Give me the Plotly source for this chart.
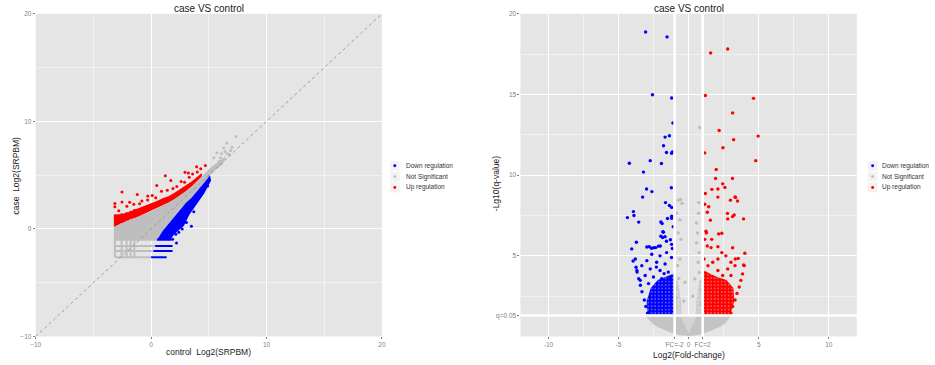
import plotly.graph_objects as go

# ---------------- data: left panel (case vs control, Log2 SRPBM) ----------------
ns_cloud_x = [-3.14, -2.5, -2.0, -1.5, -1.0, -0.5, 0.0, 0.5, 1.0, 1.5, 2.0, 2.5, 3.0, 3.5, 4.0, 4.5, 5.0, 5.5, 6.0, 6.5,
              6.2, 5.6, 5.1, 4.6, 4.0, 3.5, 3.0, 2.5, 2.0, 1.5, 1.0, 0.55, -3.14]
ns_cloud_y = [0.25, 0.55, 0.8, 1.0, 1.2, 1.4, 1.65, 1.9, 2.2, 2.45, 2.75, 3.1, 3.5, 3.95, 4.45, 5.0, 5.55, 6.0, 6.4, 6.8,
              6.0, 5.5, 5.0, 4.3, 3.5, 2.9, 2.4, 1.85, 1.1, 0.45, -0.2, -0.95, -0.95]
up_band_x = [-3.14, -2.5, -2.0, -1.5, -1.0, -0.5, 0.0, 0.5, 1.0, 1.5, 2.0, 2.5, 3.0, 3.5, 4.0, 4.4]
up_band_top = [1.35, 1.4, 1.55, 1.75, 2.0, 2.2, 2.4, 2.6, 2.85, 3.05, 3.35, 3.7, 4.0, 4.4, 4.85, 5.2]
up_band_bottom = [0.25, 0.55, 0.8, 1.0, 1.2, 1.4, 1.65, 1.9, 2.2, 2.45, 2.75, 3.1, 3.5, 3.95, 4.45, 4.9]
down_band_x = [0.55, 1.0, 1.5, 2.0, 2.5, 3.0, 3.5, 4.0, 4.6, 5.1, 5.2, 4.6, 3.9, 3.3, 2.85, 2.0, 1.7, 0.55]
down_band_y = [-0.95, -0.2, 0.45, 1.1, 1.85, 2.4, 2.9, 3.5, 4.3, 5.0, 4.5, 3.3, 2.25, 1.3, 0.3, -0.5, -0.95, -0.95]
low_rows_y = [-1.0, -1.58, -2.06, -2.64]
ns_row_start = -3.14
ns_row_end = [0.5, 0.35, 0.2, 0.0]
down_row_end = [1.75, 1.86, 1.86, 1.35]
low_cols_x = [-3.14, -2.55, -2.12, -1.78, -1.45]
ns_col_top = [0.25, 0.55, 0.78, 0.95, 1.05]
up_col_top = [1.35, 1.45, 1.55, 1.7, 1.85]
up_pts_x = [-3.14, -3.14, -2.52, 0.49, 1.23, 2.94, 3.23, 3.94, 2.23, -1.2, -1.86, -0.29, 1.71, -2.52, -2.1, -1.5,
            -0.8, 0.1, 0.9, 1.4, 2.6, 3.6, 4.3, 4.7, -2.8, -1.0, -0.3, 0.4, 1.9, 2.9, 3.3, 4.0]
up_pts_y = [2.37, 2.07, 3.43, 4.04, 4.95, 5.26, 5.2, 5.78, 3.95, 3.2, 2.49, 3.07, 4.5, 2.5, 2.1, 2.3,
            2.6, 3.1, 3.5, 3.6, 4.4, 5.1, 5.6, 5.9, 1.7, 2.35, 2.7, 2.9, 3.75, 4.35, 4.8, 5.3]
down_pts_x = [3.49, 3.06, 3.0, 3.43, 1.86, 2.14, 4.29, 4.6, 2.4, 2.7, 3.7, 2.2, 4.9]
down_pts_y = [0.24, 0.6, 1.31, 1.9, -0.97, -0.5, 3.1, 3.9, -0.3, 0.0, 1.6, -1.3, 4.0]
ns_pts_x = [7.37, 6.57, 6.29, 5.71, 6.0, 5.43, 6.09, 6.6, 6.9, 7.0, 5.9, 6.8, 6.4]
ns_pts_y = [8.6, 7.99, 7.53, 7.08, 6.62, 6.62, 6.99, 7.0, 7.3, 7.6, 6.3, 6.9, 7.2]
ref_line = [-10, 20]

# ---------------- data: right panel (volcano) ----------------
down_v_x = [-3.07, -1.54, -2.58, -1.21, -1.12, -1.68, -1.37, -1.79, -1.58, -1.21, -1.16, -4.23, -2.74, -1.94, -3.22,
            -1.23, -3.0, -2.62, -3.28, -1.65, -1.37, -1.21, -3.94, -3.9, -4.37, -3.56, -1.98, -1.89, -1.51, -1.21,
            -1.21, -1.84, -1.98, -1.86, -1.58, -3.73, -4.06, -2.98, -2.65, -2.35, -2.02, -1.21, -1.16, -3.96,
            -1.8, -1.68, -2.81, -2.5, -2.15, -2.63, -2.04, -1.57, -1.22, -3.8, -2.98, -2.28, -1.68, -3.34, -2.74,
            -2.04, -1.45, -3.69, -3.1, -2.51, -1.92, -1.33, -3.45, -2.86,
            -2.93, -3.05, -3.16, -3.33, -3.44, -3.56, -3.68, -3.75, -1.1, -1.3, -2.3, -1.75]
down_v_y = [18.87, 18.57, 14.98, 14.78, 13.23, 12.36, 12.44, 11.82, 11.4, 11.36, 11.44, 10.74, 10.9, 10.72, 10.19,
            9.22, 9.14, 8.98, 8.64, 8.3, 8.12, 8.0, 7.74, 7.5, 7.37, 7.09, 7.1, 7.0, 7.31, 7.45,
            7.33, 6.5, 6.22, 6.14, 5.9, 5.84, 5.43, 5.55, 5.47, 5.51, 5.61, 5.71, 5.45, 4.68,
            6.46, 6.18, 5.57, 5.5, 5.6, 5.1, 5.0, 5.2, 4.9, 4.8, 4.7, 4.6, 4.49, 4.39, 4.19,
            4.09, 3.99, 4.09, 3.78, 3.69, 3.58, 3.58, 3.48, 3.28,
            1.45, 1.86, 2.26, 2.77, 3.18, 3.58, 3.99, 4.29, 6.8, 6.0, 4.3, 3.9]
up_v_x = [2.79, 1.57, 1.19, 4.63, 3.14, 2.18, 4.96, 3.21, 2.45, 1.15, 4.79, 1.97, 1.92, 3.13, 2.43, 2.59, 1.66,
          2.09, 1.19, 3.31, 2.09, 2.98, 3.35, 3.49, 1.15, 1.43, 1.33, 2.77, 3.13, 3.25, 2.79, 1.55, 3.92, 1.24,
          2.37, 2.14, 1.65, 1.15, 3.14, 4.01, 3.92, 3.54, 3.33,
          1.27, 1.33, 1.6, 2.09, 2.37, 2.66, 2.09, 3.02, 3.31, 1.72, 2.79, 3.02, 2.09, 1.38, 1.1, 2.43,
          3.02, 3.14, 3.31, 3.45, 3.61, 3.73, 3.85, 3.97, 2.74]
up_v_y = [17.82, 17.57, 14.94, 14.76, 13.86, 12.77, 12.42, 12.2, 11.7, 11.38, 10.9, 10.35, 9.8, 9.8, 9.46, 9.24,
          9.12, 9.14, 8.86, 8.65, 8.64, 8.45, 8.62, 8.4, 8.2, 8.04, 7.7, 7.63, 7.43, 7.53, 7.29, 7.21, 7.29, 6.52,
          6.4, 6.36, 6.02, 6.02, 5.5, 5.16, 4.43, 4.84, 4.8,
          6.42, 5.61, 5.51, 5.57, 5.2, 5.0, 4.8, 4.6, 4.39, 4.6, 4.19, 3.78, 4.09, 4.39, 4.8, 3.78,
          1.45, 1.86, 2.26, 2.67, 3.07, 3.48, 3.88, 4.39, 1.55]
ns_v_x = [0.79, -0.74, -0.58, -0.47, -0.86, -0.62, -0.74, -0.55, -0.98, -0.62, -0.79, 0.72, 0.7, 0.56, 0.63, 0.56,
          0.75, 0.68, 0.75, 0.44, -0.26, -0.9, 0.88, -0.35, 0.3, -0.85, -0.7, 0.85, 0.9, -0.92]
ns_v_y = [12.95, 8.45, 8.49, 8.25, 7.64, 7.24, 6.42, 6.02, 5.21, 4.8, 4.4, 8.3, 7.64, 7.03, 6.42, 5.8,
          5.2, 4.6, 3.97, 3.57, 3.36, 3.0, 2.9, 2.2, 2.5, 2.4, 3.6, 2.0, 3.4, 1.8]
down_block_x = [-2.92, -1.05, -1.05, -1.6, -2.2, -2.7, -3.0, -2.92]
down_block_y = [1.35, 1.35, 3.9, 3.7, 3.5, 3.0, 2.2, 1.35]
up_block_x = [1.08, 3.0, 3.25, 3.2, 2.7, 2.0, 1.5, 1.08, 1.08]
up_block_y = [1.35, 1.35, 2.2, 3.0, 3.5, 3.7, 3.9, 4.1, 1.35]
ns_bowl_x = [-3.1, -2.6, -2.1, -1.6, -1.2, -0.7, 0.0, 0.7, 1.2, 1.6, 2.1, 2.6, 3.05, -3.1]
ns_bowl_y = [1.3, 0.8, 0.54, 0.36, 0.22, 0.1, 0.03, 0.1, 0.22, 0.36, 0.54, 0.8, 1.3, 1.3]
ns_notch_x = [-0.6, 0.0, 0.6, -0.6]
ns_notch_y = [1.3, 0.2, 1.3, 1.3]
ns_strip_l_x = [-0.97, -0.5, -0.55, -0.7, -0.85, -0.97, -0.97]
ns_strip_l_y = [1.3, 1.3, 2.2, 3.2, 3.6, 3.0, 1.3]
ns_strip_r_x = [0.5, 0.97, 0.97, 0.85, 0.65, 0.55, 0.5]
ns_strip_r_y = [1.3, 1.3, 3.0, 3.6, 3.0, 2.2, 1.3]

fc_lines = [-1, 1]
q_line = 1.30103
vx_ticks = [-10, -5, -1, 0, 1, 5, 10]
vx_text = ["-10", "-5", "FC=-2", "0", "FC=2", "5", "10"]
vy_ticks = [1.30103, 5, 10, 15, 20]
vy_text = ["q=0.05", "5", "10", "15", "20"]
sx_ticks = [-10, 0, 10, 20]

legend_labels = ["Down regulation", "Not Significant", "Up regulation"]

BLUE, RED, GREY, BG = "#0000FF", "#FF0000", "#BEBEBE", "#E5E5E5"
FONT = "Liberation Sans, Arial, sans-serif"
W, H = 935, 365

fig = go.Figure()


def poly(x, y, color, xa, ya, speckle=None):
    kw = dict(x=x, y=y, fill="toself", mode="lines", line=dict(width=0), hoverinfo="skip",
              showlegend=False, xaxis=xa, yaxis=ya, fillcolor=color)
    if speckle:
        kw["fillpattern"] = dict(shape=".", fgcolor=speckle[0], bgcolor=color,
                                 size=speckle[1], solidity=speckle[2])
    fig.add_trace(go.Scatter(**kw))


# ----- left panel -----
poly(ns_cloud_x, ns_cloud_y, GREY, "x", "y")
poly(up_band_x + up_band_x[::-1], up_band_top + up_band_bottom[::-1], RED, "x", "y")
poly(down_band_x, down_band_y, BLUE, "x", "y")

rx, ry, bx, by = [], [], [], []
for yv, e1, e2 in zip(low_rows_y, ns_row_end, down_row_end):
    rx += [ns_row_start, e1, None]
    ry += [yv, yv, None]
    bx += [e1, e2, None]
    by += [yv, yv, None]
cx, cy, ux, uy = [], [], [], []
for xv, t1, t2 in zip(low_cols_x, ns_col_top, up_col_top):
    cx += [xv, xv, None]
    cy += [low_rows_y[-1], t1, None]
    ux += [xv, xv, None]
    uy += [t1, t2, None]
fig.add_trace(go.Scatter(x=rx + cx, y=ry + cy, mode="lines", line=dict(color=GREY, width=2),
                         showlegend=False, hoverinfo="skip", xaxis="x", yaxis="y"))
fig.add_trace(go.Scatter(x=bx, y=by, mode="lines", line=dict(color=BLUE, width=2),
                         showlegend=False, hoverinfo="skip", xaxis="x", yaxis="y"))
fig.add_trace(go.Scatter(x=ux, y=uy, mode="lines", line=dict(color=RED, width=2),
                         showlegend=False, hoverinfo="skip", xaxis="x", yaxis="y"))

mk = dict(size=3, line=dict(width=0))
fig.add_trace(go.Scatter(x=down_pts_x, y=down_pts_y, mode="markers", name="Down regulation",
                         marker=dict(color=BLUE, **mk), showlegend=False, xaxis="x", yaxis="y"))
fig.add_trace(go.Scatter(x=ns_pts_x, y=ns_pts_y, mode="markers", name="Not Significant",
                         marker=dict(color=GREY, **mk), showlegend=False, xaxis="x", yaxis="y"))
fig.add_trace(go.Scatter(x=up_pts_x, y=up_pts_y, mode="markers", name="Up regulation",
                         marker=dict(color=RED, **mk), showlegend=False, xaxis="x", yaxis="y"))
fig.add_trace(go.Scatter(x=ref_line, y=ref_line, mode="lines", line=dict(color="#9A9A9A", width=1, dash="dot"),
                         showlegend=False, hoverinfo="skip", xaxis="x", yaxis="y"))

# ----- right panel -----
poly(ns_bowl_x, ns_bowl_y, "#C4C4C4", "x2", "y2")
poly(ns_notch_x, ns_notch_y, "#D4D4D4", "x2", "y2")
poly(ns_strip_l_x, ns_strip_l_y, "#CBCBCB", "x2", "y2", speckle=(BG, 4, 0.3))
poly(ns_strip_r_x, ns_strip_r_y, "#CBCBCB", "x2", "y2", speckle=(BG, 4, 0.3))
poly(down_block_x, down_block_y, BLUE, "x2", "y2", speckle=(BG, 3.5, 0.18))
poly(up_block_x, up_block_y, RED, "x2", "y2", speckle=(BG, 3.5, 0.18))

mk2 = dict(size=3.4, line=dict(width=0))
fig.add_trace(go.Scatter(x=down_v_x, y=down_v_y, mode="markers", name="Down regulation",
                         marker=dict(color=BLUE, **mk2), showlegend=False, xaxis="x2", yaxis="y2"))
fig.add_trace(go.Scatter(x=ns_v_x, y=ns_v_y, mode="markers", name="Not Significant",
                         marker=dict(color=GREY, **mk2), showlegend=False, xaxis="x2", yaxis="y2"))
fig.add_trace(go.Scatter(x=up_v_x, y=up_v_y, mode="markers", name="Up regulation",
                         marker=dict(color=RED, **mk2), showlegend=False, xaxis="x2", yaxis="y2"))

for xv in fc_lines:
    fig.add_shape(type="line", xref="x2", yref="y2", x0=xv, x1=xv, y0=0, y1=20,
                  line=dict(color="white", width=2.6), layer="above")
fig.add_shape(type="line", xref="x2", yref="y2", x0=-12, x1=12, y0=q_line, y1=q_line,
              line=dict(color="white", width=2.6), layer="above")

# ----- legends (ggplot-style key boxes) -----
legend_colors = [BLUE, GREY, RED]
legend_rows = [165, 176, 187]
for key_x, text_x in [(393, 402), (876, 883)]:
    for lab, col, ry in zip(legend_labels, legend_colors, legend_rows):
        fig.add_shape(type="rect", xref="paper", yref="paper",
                      x0=(key_x - 5) / W, x1=(key_x + 5) / W, y0=1 - (ry + 5) / H, y1=1 - (ry - 5) / H,
                      fillcolor="#F2F2F2", line=dict(width=0), layer="above")
        fig.add_shape(type="circle", xref="paper", yref="paper",
                      x0=(key_x - 1.5) / W, x1=(key_x + 1.5) / W, y0=1 - (ry + 1.5) / H, y1=1 - (ry - 1.5) / H,
                      fillcolor=col, line=dict(width=0), layer="above")
        fig.add_annotation(text=lab, x=text_x / W, y=1 - ry / H, xref="paper", yref="paper", showarrow=False,
                           xanchor="left", yanchor="middle", font=dict(family=FONT, size=6.5, color="#333333"))

# ----- layout -----
tickfont = dict(family=FONT, size=6.5, color="#7F7F7F")
ax_common = dict(showline=False, zeroline=False, ticks="outside", ticklen=2, tickcolor="#7F7F7F",
                 tickfont=tickfont, gridcolor="white", gridwidth=1.1, fixedrange=True)
ydom = [26 / H, 355 / H]

fig.update_layout(
    width=W, height=H, autosize=False, margin=dict(l=0, r=0, t=0, b=0, pad=0),
    paper_bgcolor="white", plot_bgcolor=BG, showlegend=False,
    font=dict(family=FONT, color="#222222"),
    xaxis=dict(domain=[30 / W, 380 / W], range=[-10, 20], tickvals=sx_ticks, anchor="y",
               minor=dict(showgrid=True, gridcolor="#F2F2F2", gridwidth=0.6, tick0=-5, dtick=10), **ax_common),
    yaxis=dict(domain=ydom, range=[-10, 20], tickvals=sx_ticks, anchor="x",
               minor=dict(showgrid=True, gridcolor="#F2F2F2", gridwidth=0.6, tick0=-5, dtick=10), **ax_common),
    xaxis2=dict(domain=[520 / W, 860 / W], range=[-12, 12], tickvals=vx_ticks, ticktext=vx_text, anchor="y2",
                minor=dict(showgrid=True, gridcolor="#F2F2F2", gridwidth=0.6, tick0=-7.5, dtick=5), **ax_common),
    yaxis2=dict(domain=ydom, range=[0, 20], tickvals=vy_ticks, ticktext=vy_text, anchor="x2",
                minor=dict(showgrid=True, gridcolor="#F2F2F2", gridwidth=0.6, tick0=2.5, dtick=5), **ax_common),
)

ann = [
    dict(text="case VS control", x=205 / W, y=1 - 5 / H, size=10),
    dict(text="case VS control", x=690 / W, y=1 - 5 / H, size=10),
    dict(text="control  Log2(SRPBM)", x=205 / W, y=1 - 355 / H, size=8.5),
    dict(text="Log2(Fold-change)", x=690 / W, y=1 - 358 / H, size=8.5),
]
for a in ann:
    fig.add_annotation(text=a["text"], x=a["x"], y=a["y"], xref="paper", yref="paper", showarrow=False,
                       xanchor="center", yanchor="middle", font=dict(family=FONT, size=a["size"], color="#1A1A1A"))
fig.add_annotation(text="case  Log2(SRPBM)", x=10 / W, y=1 - 175 / H, xref="paper", yref="paper",
                   showarrow=False, textangle=-90, xanchor="center", yanchor="middle",
                   font=dict(family=FONT, size=8.5, color="#1A1A1A"))
fig.add_annotation(text="-Lg10(q-value)", x=496 / W, y=1 - 183 / H, xref="paper", yref="paper",
                   showarrow=False, textangle=-90, xanchor="center", yanchor="middle",
                   font=dict(family=FONT, size=8.5, color="#1A1A1A"))

fig.write_html("out.html", config={"responsive": False, "displayModeBar": False},
               post_script="document.body.style.margin='0px';document.body.style.overflow='hidden';")
